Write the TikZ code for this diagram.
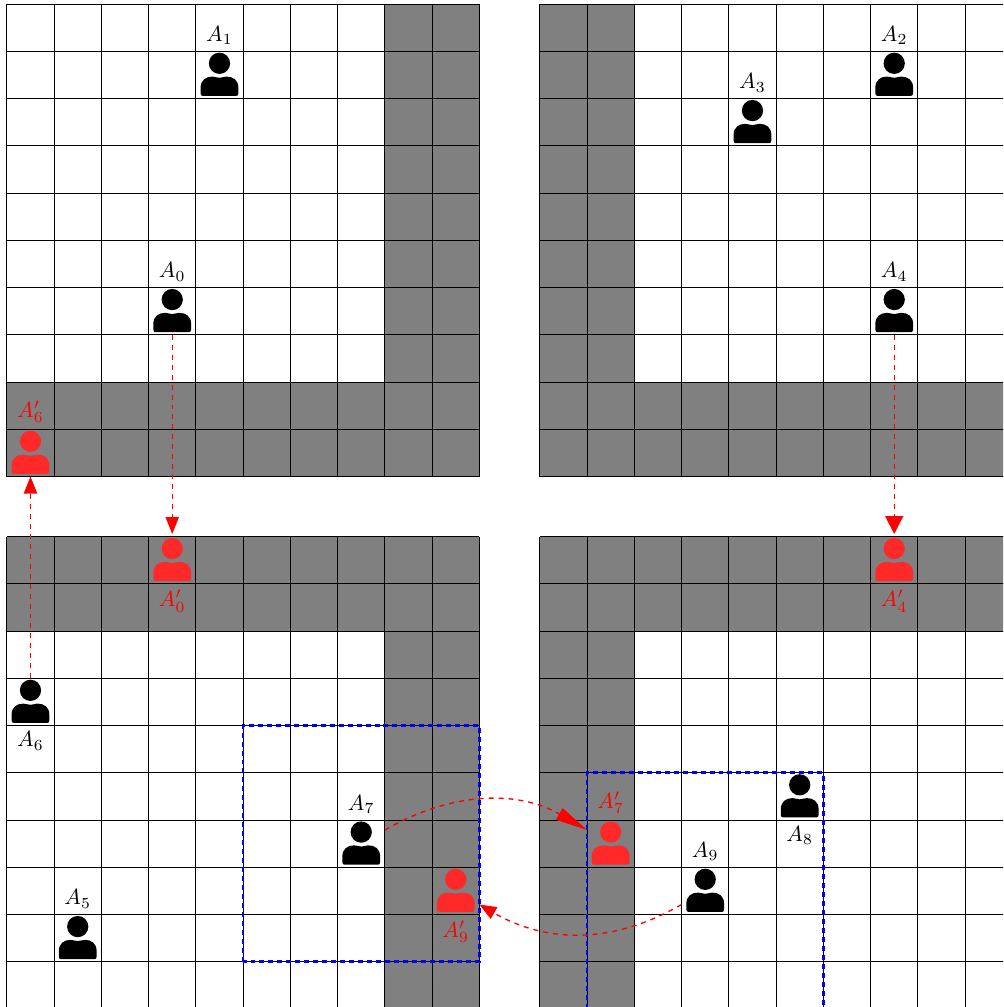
\documentclass[tikz,border=0pt]{standalone}
\usetikzlibrary{arrows.meta,positioning}
\tikzset{
  wall/.style={fill=gray},
  agent/.style={minimum size=1cm, inner sep=0pt, outer sep=0pt, path picture={
    \begin{scope}[shift={(path picture bounding box.center)}]
      \fill[#1] (0,.245) circle (.225);
      \fill[#1] (-.4,-.39) -- (-.4,-.275) .. controls (-.4,-.11) and (-.29,-.036) .. (-.15,-.036)
        .. controls (-.09,-.036) and (-.06,-.062) .. (0,-.062) .. controls (.06,-.062) and (.09,-.036) .. (.15,-.036)
        .. controls (.29,-.036) and (.4,-.11) .. (.4,-.275) -- (.4,-.39)
        .. controls (.4,-.43) and (.38,-.445) .. (.35,-.445) -- (-.35,-.445)
        .. controls (-.38,-.445) and (-.4,-.43) .. (-.4,-.39) -- cycle;
    \end{scope}}},
  mirrored/.style={agent=red!84!white},
  name tag/.style={inner sep=0pt, scale=1.33},
  move/.style={red, dashed, thick, -{Triangle[length=.36cm,width=.28cm]}},
  window/.style={blue, dash pattern=on 3pt off 2.4pt, line width=1.6pt}
}
\begin{document}
\begin{tikzpicture}[line width=.45pt]
  \path[use as bounding box, clip] (-.145,.043) rectangle (21.083,21.355);
  % top left
  \begin{scope}[shift={(0,11.27)}]
    \fill[wall] (8,0) rectangle (10,10);
    \fill[wall] (0,0) rectangle (10,2);
    \draw (0,0) grid (10,10);
    \node[agent=black] (A1) at (4.5,8.5) {};
    \node[agent=black] (A0) at (3.5,3.5) {};
    \node[mirrored] (A6p) at (.5,.5) {};
    \node[name tag, above=3.5pt of A1] (tagA1) {$A_1$};
    \node[name tag, above=3.5pt of A0] (tagA0) {$A_0$};
    \node[name tag, red, above=3.5pt of A6p] (tagA6p) {$A_6'$};
  \end{scope}
  % top right
  \begin{scope}[shift={(11.28,11.27)}]
    \fill[wall] (0,0) rectangle (2,10);
    \fill[wall] (0,0) rectangle (10,2);
    \draw (0,0) grid (10,10);
    \node[agent=black] (A2) at (7.5,8.5) {};
    \node[agent=black] (A3) at (4.5,7.5) {};
    \node[agent=black] (A4) at (7.5,3.5) {};
    \node[name tag, above=3.5pt of A2] (tagA2) {$A_2$};
    \node[name tag, above=3.5pt of A3] (tagA3) {$A_3$};
    \node[name tag, above=3.5pt of A4] (tagA4) {$A_4$};
  \end{scope}
  % bottom left
  \begin{scope}[shift={(0,0)}]
    \fill[wall] (8,0) rectangle (10,10);
    \fill[wall] (0,8) rectangle (10,10);
    \draw (0,0) grid (10,10);
    \node[mirrored] (A0p) at (3.5,9.5) {};
    \node[agent=black] (A6) at (.5,6.5) {};
    \node[agent=black] (A5) at (1.5,1.5) {};
    \node[agent=black] (A7) at (7.5,3.5) {};
    \node[mirrored] (A9p) at (9.5,2.5) {};
    \node[name tag, red, below=3.5pt of A0p] (tagA0p) {$A_0'$};
    \node[name tag, below=3.5pt of A6] (tagA6) {$A_6$};
    \node[name tag, above=3.5pt of A5] (tagA5) {$A_5$};
    \node[name tag, above=3.5pt of A7] (tagA7) {$A_7$};
    \node[name tag, red, below=3.5pt of A9p] (tagA9p) {$A_9'$};
    \draw[window] (5,1) rectangle (10,6);
  \end{scope}
  % bottom right
  \begin{scope}[shift={(11.28,0)}]
    \fill[wall] (0,0) rectangle (2,10);
    \fill[wall] (0,8) rectangle (10,10);
    \draw (0,0) grid (10,10);
    \node[mirrored] (A4p) at (7.5,9.5) {};
    \node[mirrored] (A7p) at (1.5,3.5) {};
    \node[agent=black] (A9) at (3.5,2.5) {};
    \node[agent=black] (A8) at (5.5,4.5) {};
    \node[name tag, red, below=3.5pt of A4p] (tagA4p) {$A_4'$};
    \node[name tag, red, above=3.5pt of A7p] (tagA7p) {$A_7'$};
    \node[name tag, above=3.5pt of A9] (tagA9) {$A_9$};
    \node[name tag, below=3.5pt of A8] (tagA8) {$A_8$};
    \draw[window] (1,0) rectangle (6,5);
  \end{scope}
  % moves
  \draw[move, shorten >=1.5pt] (A0) -- (A0p);
  \draw[move, shorten >=1.5pt, -{Triangle[length=.38cm,width=.38cm]}] (A4) -- (A4p);
  \draw[move] (A6) -- (A6p);
  \draw[move, -{Triangle[length=.68cm,width=.28cm]}] (A7) to[bend left] (A7p);
  \draw[move] (A9) to[bend left] (A9p);
\end{tikzpicture}
\end{document}
